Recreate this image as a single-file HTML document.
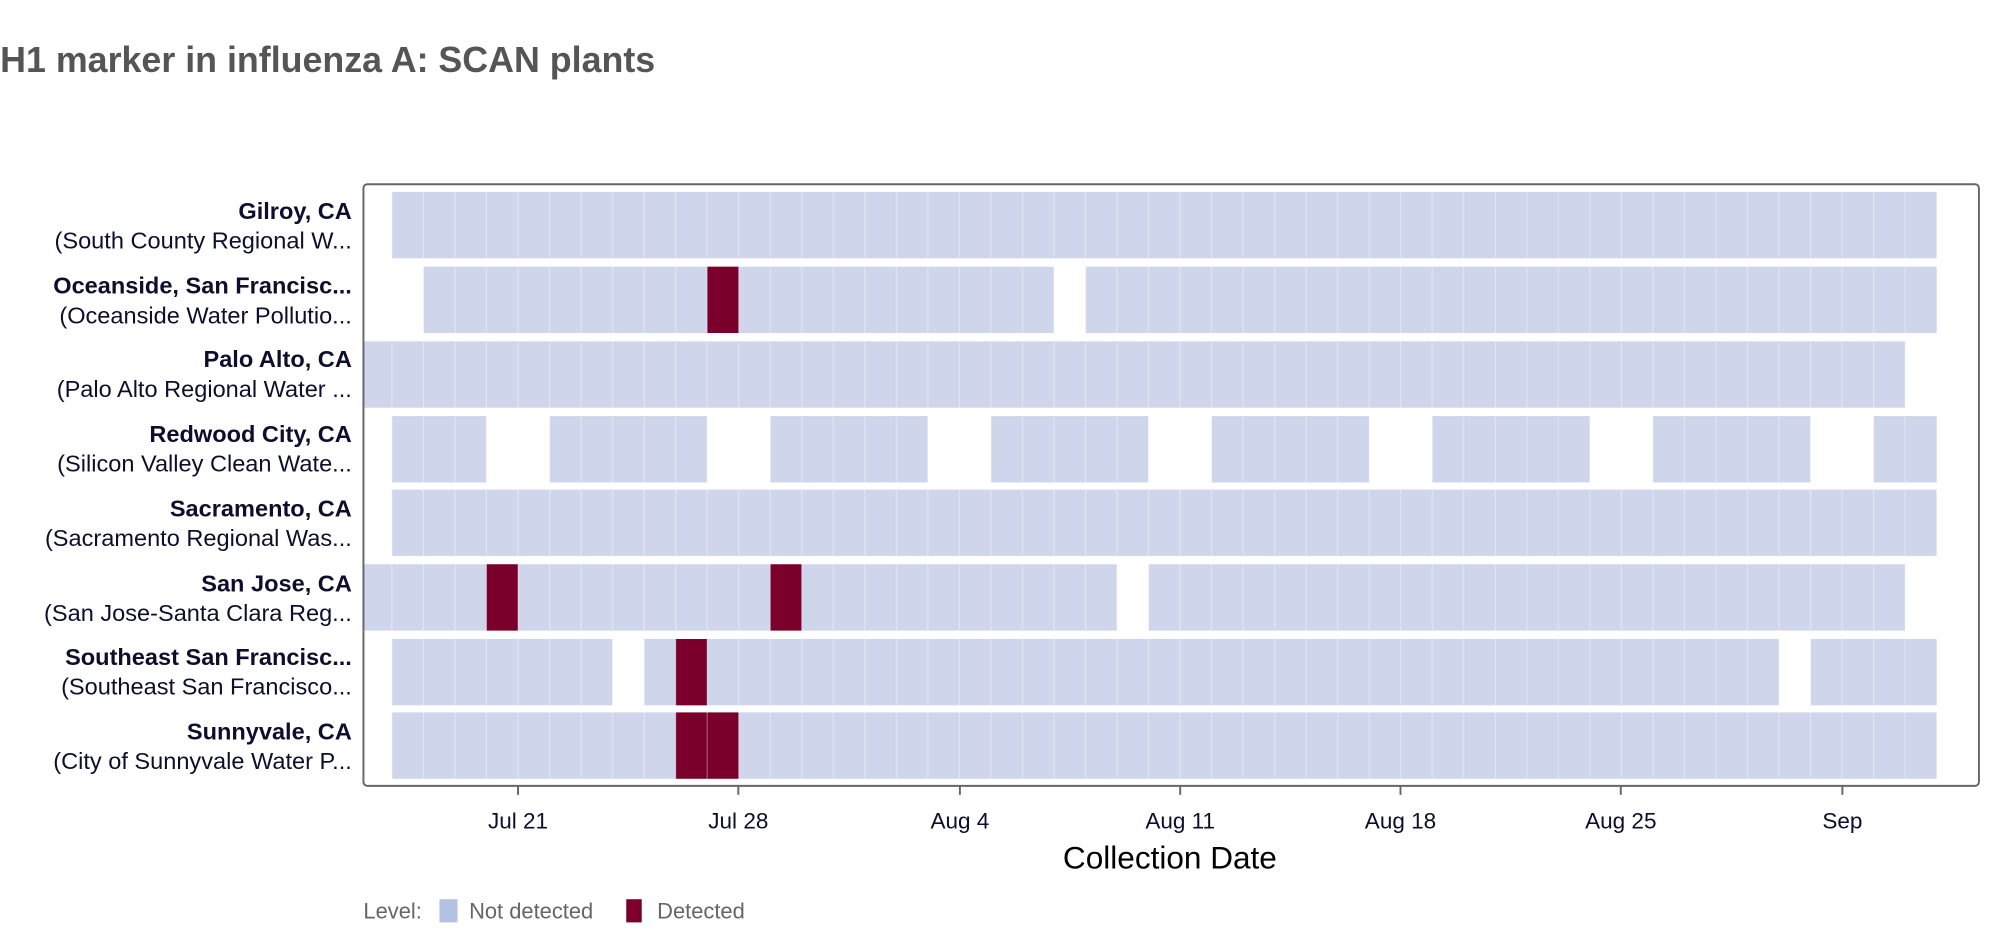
<!DOCTYPE html>
<html><head><meta charset="utf-8"><style>
html,body{margin:0;padding:0;background:#fff;}
svg{display:block;font-family:"Liberation Sans",Arial,sans-serif;}
</style></head><body>
<svg width="2010" height="934" viewBox="0 0 1560 725" xmlns="http://www.w3.org/2000/svg">
<text x="0" y="56" font-size="27.8" font-weight="bold" fill="#555">H1 marker in influenza A: SCAN plants</text>
<g fill="#cfd6ec">
<rect x="304.1" y="149" width="1199" height="51.5"/>
<rect x="328.6" y="207" width="489.4" height="51.5"/><rect x="842.5" y="207" width="660.7" height="51.5"/>
<rect x="282" y="265" width="1196.7" height="51.5"/>
<rect x="304.1" y="323" width="73.4" height="51.5"/><rect x="426.5" y="323" width="122.3" height="51.5"/><rect x="597.8" y="323" width="122.3" height="51.5"/><rect x="769.1" y="323" width="122.3" height="51.5"/><rect x="940.3" y="323" width="122.4" height="51.5"/><rect x="1111.6" y="323" width="122.4" height="51.5"/><rect x="1282.9" y="323" width="122.4" height="51.5"/><rect x="1454.2" y="323" width="49" height="51.5"/>
<rect x="304.1" y="380" width="1199" height="51.5"/>
<rect x="282" y="438" width="584.9" height="51.5"/><rect x="891.4" y="438" width="587.3" height="51.5"/>
<rect x="304.1" y="496" width="171.3" height="51.5"/><rect x="499.9" y="496" width="880.9" height="51.5"/><rect x="1405.3" y="496" width="97.9" height="51.5"/>
<rect x="304.1" y="553" width="1199" height="51.5"/>
</g>
<g fill="#7a002b">
<rect x="548.8" y="207" width="24.5" height="51.5"/>
<rect x="377.5" y="438" width="24.5" height="51.5"/><rect x="597.8" y="438" width="24.4" height="51.5"/>
<rect x="524.4" y="496" width="24.4" height="51.5"/>
<rect x="524.4" y="553" width="48.9" height="51.5"/>
</g>
<path stroke="#fff" stroke-opacity="0.4" stroke-width="0.8" fill="none" d="M304.1 149V605 M328.6 149V605 M353.1 149V605 M377.5 149V605 M402 149V605 M426.5 149V605 M450.9 149V605 M475.4 149V605 M499.9 149V605 M524.4 149V605 M548.8 149V605 M573.3 149V605 M597.8 149V605 M622.2 149V605 M646.7 149V605 M671.2 149V605 M695.6 149V605 M720.1 149V605 M744.6 149V605 M769.1 149V605 M793.5 149V605 M818 149V605 M842.5 149V605 M866.9 149V605 M891.4 149V605 M915.9 149V605 M940.3 149V605 M964.8 149V605 M989.3 149V605 M1013.8 149V605 M1038.2 149V605 M1062.7 149V605 M1087.2 149V605 M1111.6 149V605 M1136.1 149V605 M1160.6 149V605 M1185.1 149V605 M1209.5 149V605 M1234 149V605 M1258.5 149V605 M1282.9 149V605 M1307.4 149V605 M1331.9 149V605 M1356.3 149V605 M1380.8 149V605 M1405.3 149V605 M1429.7 149V605 M1454.2 149V605 M1478.7 149V605"/>
<rect x="282" y="143" width="1254" height="467" rx="3" fill="none" stroke="#666" stroke-width="1.5"/>
<g font-size="18.3" fill="#0e0e2c" text-anchor="end">
<text x="273" y="170" font-weight="bold">Gilroy, CA</text><text x="273" y="193">(South County Regional W...</text>
<text x="273" y="228" font-weight="bold">Oceanside, San Francisc...</text><text x="273" y="251">(Oceanside Water Pollutio...</text>
<text x="273" y="285" font-weight="bold">Palo Alto, CA</text><text x="273" y="308">(Palo Alto Regional Water ...</text>
<text x="273" y="343" font-weight="bold">Redwood City, CA</text><text x="273" y="366">(Silicon Valley Clean Wate...</text>
<text x="273" y="401" font-weight="bold">Sacramento, CA</text><text x="273" y="424">(Sacramento Regional Was...</text>
<text x="273" y="459" font-weight="bold">San Jose, CA</text><text x="273" y="482">(San Jose-Santa Clara Reg...</text>
<text x="273" y="516" font-weight="bold">Southeast San Francisc...</text><text x="273" y="539">(Southeast San Francisco...</text>
<text x="273" y="574" font-weight="bold">Sunnyvale, CA</text><text x="273" y="597">(City of Sunnyvale Water P...</text>
</g>
<g stroke="#666" stroke-width="1.5">
<line x1="402" y1="610" x2="402" y2="617"/><line x1="573" y1="610" x2="573" y2="617"/><line x1="745" y1="610" x2="745" y2="617"/><line x1="916" y1="610" x2="916" y2="617"/><line x1="1087" y1="610" x2="1087" y2="617"/><line x1="1258" y1="610" x2="1258" y2="617"/><line x1="1430" y1="610" x2="1430" y2="617"/>
</g>
<g font-size="17.5" fill="#0e0e2c" text-anchor="middle">
<text x="402" y="643">Jul 21</text><text x="573" y="643">Jul 28</text><text x="745" y="643">Aug 4</text><text x="916" y="643">Aug 11</text><text x="1087" y="643">Aug 18</text><text x="1258" y="643">Aug 25</text><text x="1430" y="643">Sep</text>
</g>
<text x="908" y="674" font-size="24.5" text-anchor="middle" fill="#000">Collection Date</text>
<text x="282" y="713" font-size="17" fill="#666">Level:</text>
<rect x="341" y="698" width="14" height="18" fill="#b3c1e3"/>
<text x="364" y="713" font-size="17" fill="#666">Not detected</text>
<rect x="486" y="698" width="12" height="18" fill="#7a002b"/>
<text x="510" y="713" font-size="17" fill="#666">Detected</text>
</svg>
</body></html>
